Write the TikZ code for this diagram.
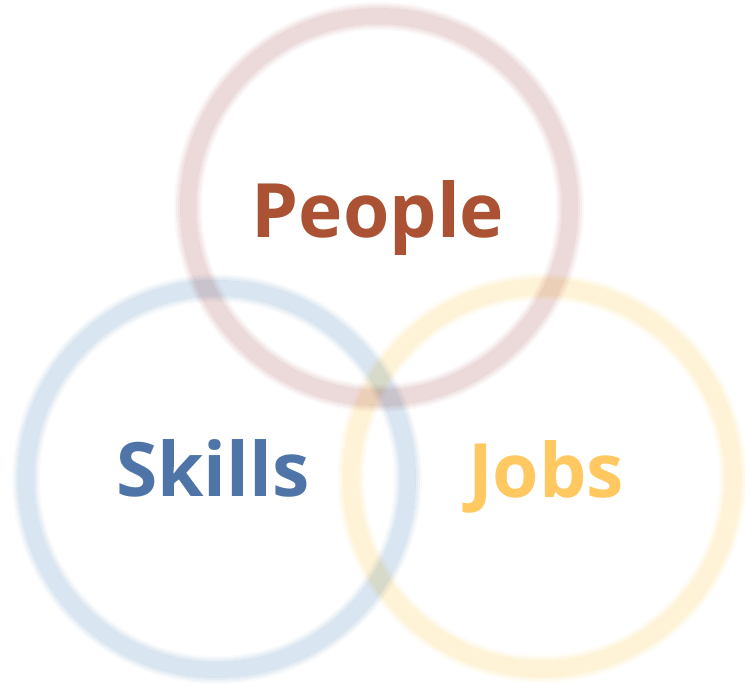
\documentclass[tikz,border=0pt]{standalone}
\usepackage{fontspec}
\setmainfont{Open Sans}
\definecolor{peopleink}{RGB}{170,82,51}
\definecolor{skillsink}{RGB}{79,117,168}
\definecolor{jobsink}{RGB}{255,200,96}
\definecolor{peoplering}{RGB}{236,218,218}
\definecolor{skillsring}{RGB}{217,229,240}
\definecolor{jobsring}{RGB}{254,243,214}

\begin{document}
\begin{tikzpicture}[x=1pt,y=-1pt,
    word/.style={font=\fontsize{75}{80}\selectfont\bfseries,anchor=base,inner sep=0pt}]
    \useasboundingbox (0,0) rectangle (745,686);
    % blurred rings: a solid core and soft bands on both sides
    \begin{scope}[blend mode=multiply]
    \foreach \cx/\cy/\col in {379/207/peoplering,217/479/skillsring,542/478/jobsring}{
        \draw[line width=16pt,draw=\col] (\cx,\cy) circle (191);
        \foreach \d/\p in {9/70,11/42,13/18}{
            \draw[line width=2pt,draw=\col!\p!white] (\cx,\cy) circle (191+\d);
            \draw[line width=2pt,draw=\col!\p!white] (\cx,\cy) circle (191-\d);
        }
    }
    \end{scope}
    \node[word,text=peopleink] (people) at (378,237) {People};
    \node[word,text=skillsink] (skills) at (213,496) {Skills};
    \node[word,text=jobsink] (jobs) at (546,497) {Jobs};
\end{tikzpicture}
\end{document}
